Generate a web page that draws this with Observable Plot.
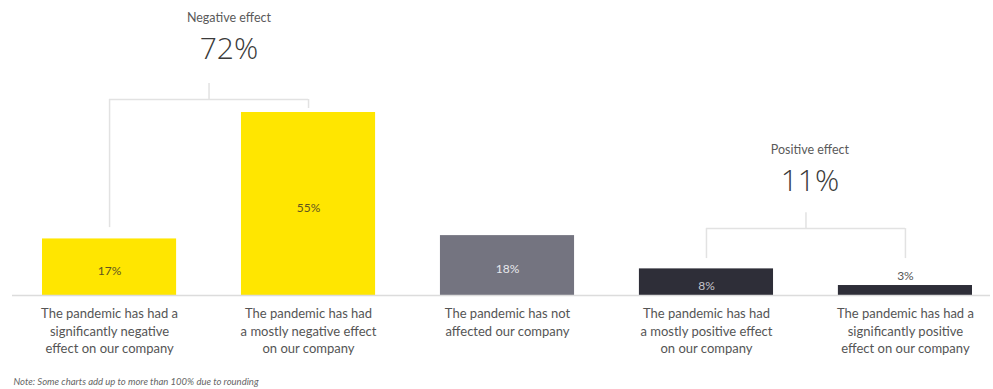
<!DOCTYPE html>
<html><head><meta charset="utf-8">
<script src="https://cdn.jsdelivr.net/npm/d3@7"></script>
<script src="https://cdn.jsdelivr.net/npm/@observablehq/plot@0.6"></script>
<style>
body{margin:0;background:#fff;}
#chart svg{display:block;}
</style>
</head><body><div id="chart"></div>
<script>
// ---- data ----
const categories = [
  "The pandemic has had a\nsignificantly negative\neffect on our company",
  "The pandemic has had\na mostly negative effect\non our company",
  "The pandemic has not\naffected our company",
  "The pandemic has had\na mostly positive effect\non our company",
  "The pandemic has had a\nsignificantly positive\neffect on our company"
];
const values = [17, 55, 18, 8, 3];
const valueLabels = ["17%", "55%", "18%", "8%", "3%"];
const groupNames = ["Negative effect", "Positive effect"];
const groupTotals = ["72%", "11%"];
const groupFrom = [0, 3];
const groupTo = [1, 4];
const note = "Note: Some charts add up to more than 100% due to rounding";

// ---- styles / layout (not data) ----
const barFill = ["#FFE600", "#FFE600", "#747480", "#2E2E38", "#2E2E38"];
const labelFill = ["#5f5520", "#5f5520", "#e8e8ec", "#c4c4cc", "#555555"];
const labelInside = [true, true, true, true, false];
const halfBar = 0.337;
const bracketLayout = [
  {level: 58.9, stem: 63.7, legs: [20.4, 56.2], nameY: 83.5, totalY: 73.9, textX: 0.6},
  {level: 20.1, stem: 24.9, legs: [11.1, 11.1], nameY: 43.6, totalY: 34.3, textX: 3.52}
];

const bars = values.map((v, i) => ({i, v, label: valueLabels[i], cat: categories[i],
  fill: barFill[i], lc: labelFill[i], inside: labelInside[i]}));
const groups = groupNames.map((n, g) => ({g, name: n, total: groupTotals[g],
  from: groupFrom[g], to: groupTo[g], mid: (groupFrom[g] + groupTo[g]) / 2, ...bracketLayout[g]}));
const legs = groups.flatMap(d => [{x: d.from, y1: d.level, y2: d.legs[0]}, {x: d.to, y1: d.level, y2: d.legs[1]}]);

const font = "Lato, 'Open Sans', sans-serif";
const chart = Plot.plot({
  width: 993,
  height: 389,
  marginLeft: 12,
  marginRight: 3,
  marginTop: 112,
  marginBottom: 94,
  style: {fontFamily: font, background: "#fff"},
  x: {type: "linear", domain: [-halfBar, values.length - 1 + halfBar], range: [42, 972], axis: null},
  y: {domain: [0, 55], axis: null},
  marks: [
    // brackets
    Plot.ruleY(groups, {x1: "from", x2: "to", y: "level", stroke: "#e2e2e2", strokeWidth: 1.5}),
    Plot.ruleX(groups, {x: "mid", y1: "level", y2: "stem", stroke: "#e2e2e2", strokeWidth: 1.5}),
    Plot.ruleX(legs, {x: "x", y1: "y1", y2: "y2", stroke: "#e2e2e2", strokeWidth: 1.5}),
    Plot.text(groups, {x: "textX", y: "nameY", text: "name", fontSize: 12.5, fill: "#5a5a5a"}),
    Plot.text(groups, {x: "textX", y: "totalY", text: "total", fontSize: 30, fontWeight: 300, fill: "#3a3a3a", fontFamily: "'Open Sans', sans-serif"}),
    // bars
    Plot.rectY(bars, {x1: d => d.i - halfBar, x2: d => d.i + halfBar, y: "v", fill: d => d.fill}),
    Plot.ruleY([0], {stroke: "#dcdcdc", strokeWidth: 1.5}),
    Plot.text(bars.filter(d => d.inside), {x: "i", y: d => d.v / 2, text: "label", fill: d => d.lc, fontSize: 12, dy: 4}),
    Plot.text(bars.filter(d => !d.inside), {x: "i", y: "v", text: "label", fill: d => d.lc, fontSize: 12, dy: -9}),
    // category labels
    Plot.text(bars, {x: "i", y: 0, text: "cat", lineAnchor: "top", dy: 10, fontSize: 13, lineHeight: 1.36, fill: "#555555"}),
    // note
    Plot.text([note], {frameAnchor: "bottom-left", text: d => d, dx: 1, dy: 89, fontSize: 9.5, fontStyle: "italic", fill: "#666", textAnchor: "start"})
  ]
});
document.getElementById("chart").appendChild(chart);
</script>
</body></html>
